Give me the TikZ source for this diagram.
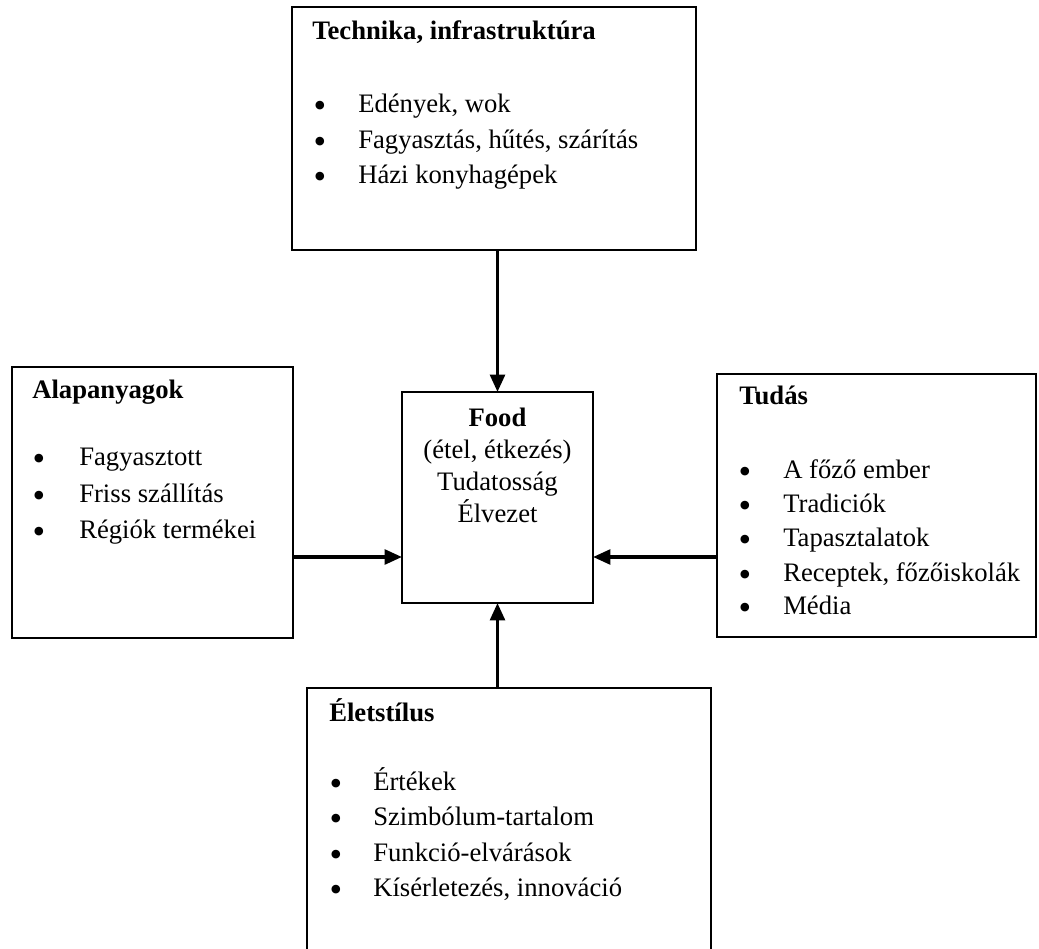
\documentclass[tikz,border=0pt]{standalone}
\usepackage{fontspec}
\setmainfont{Liberation Serif}
\usetikzlibrary{arrows.meta}
\begin{document}
\begin{tikzpicture}[x=0.75pt,y=-0.75pt,
  box/.style={draw=black, line width=2pt, fill=white, inner sep=0pt, outer sep=0pt, rectangle},
  lbl/.style={anchor=west, inner sep=0pt, font=\fontsize{20}{26}\selectfont, text height=0.7em, text depth=0.2em},
  ttl/.style={lbl, font=\fontsize{20}{26}\selectfont\bfseries},
  bul/.style={anchor=center, inner sep=0pt, font=\fontsize{27}{30}\selectfont},
  ctr/.style={lbl, anchor=center},
  ctrb/.style={ttl, anchor=center},
  arr/.style={line width=2.6pt, -{Triangle[length=13pt,width=11pt]}}]
\useasboundingbox (0,0) rectangle (1039,949);
\clip (0,0) rectangle (1039,949);
% boxes
\node[box, minimum width=303pt, minimum height=182.25pt] (top) at (494,128.5) {};
\node[box, minimum width=210.75pt, minimum height=203.25pt] (left) at (152.5,502.5) {};
\node[box, minimum width=143.25pt, minimum height=158.25pt] (cen) at (497.5,497.5) {};
\node[box, minimum width=239.25pt, minimum height=197.25pt] (right) at (876.5,505.5) {};
\node[box, minimum width=303pt, minimum height=204pt] (bot) at (509,824) {};
% arrows
\coordinate (ah) at (0,557);
\draw[arr] (top.south -| cen.north) -- (cen.north);
\draw[arr] (bot.north -| cen.south) -- (cen.south);
\draw[arr] (left.east |- ah) -- (cen.west |- ah);
\draw[arr] (right.west |- ah) -- (cen.east |- ah);
% top box text
\node[ttl] (tT) at (312,36) {Technika, infrastruktúra};
\node[bul] (tb1) at (320,109) {•};
\node[lbl] (ti1) at (358,109) {Edények, wok};
\node[bul] (tb2) at (320,145) {•};
\node[lbl] (ti2) at (358,145) {Fagyasztás, hűtés, szárítás};
\node[bul] (tb3) at (320,180) {•};
\node[lbl] (ti3) at (358,180) {Házi konyhagépek};
% left box text
\node[ttl] (lT) at (32,395) {Alapanyagok};
\node[bul] (lb1) at (39,462) {•};
\node[lbl] (li1) at (79,462) {Fagyasztott};
\node[bul] (lb2) at (39,499) {•};
\node[lbl] (li2) at (79,499) {Friss szállítás};
\node[bul] (lb3) at (39,535) {•};
\node[lbl] (li3) at (79,535) {Régiók termékei};
% center text
\node[ctrb] (c1) at (497.5,423) {Food};
\node[ctr] (c2) at (497.5,455) {(étel, étkezés)};
\node[ctr] (c3) at (497.5,487) {Tudatosság};
\node[ctr] (c4) at (497.5,519) {Élvezet};
% right box text
\node[ttl] (rT) at (739,401) {Tudás};
\node[bul] (rb1) at (745,475) {•};
\node[lbl] (ri1) at (783,475) {A főző ember};
\node[bul] (rb2) at (745,509) {•};
\node[lbl] (ri2) at (783,509) {Tradiciók};
\node[bul] (rb3) at (745,543) {•};
\node[lbl] (ri3) at (783,543) {Tapasztalatok};
\node[bul] (rb4) at (745,578) {•};
\node[lbl] (ri4) at (783,578) {Receptek, főzőiskolák};
\node[bul] (rb5) at (745,611) {•};
\node[lbl] (ri5) at (783,611) {Média};
% bottom box text
\node[ttl] (bT) at (329,718) {Életstílus};
\node[bul] (bb1) at (336,787) {•};
\node[lbl] (bi1) at (373,787) {Értékek};
\node[bul] (bb2) at (336,822) {•};
\node[lbl] (bi2) at (373,822) {Szimbólum-tartalom};
\node[bul] (bb3) at (336,858) {•};
\node[lbl] (bi3) at (373,858) {Funkció-elvárások};
\node[bul] (bb4) at (336,893) {•};
\node[lbl] (bi4) at (373,893) {Kísérletezés, innováció};
\end{tikzpicture}
\end{document}
